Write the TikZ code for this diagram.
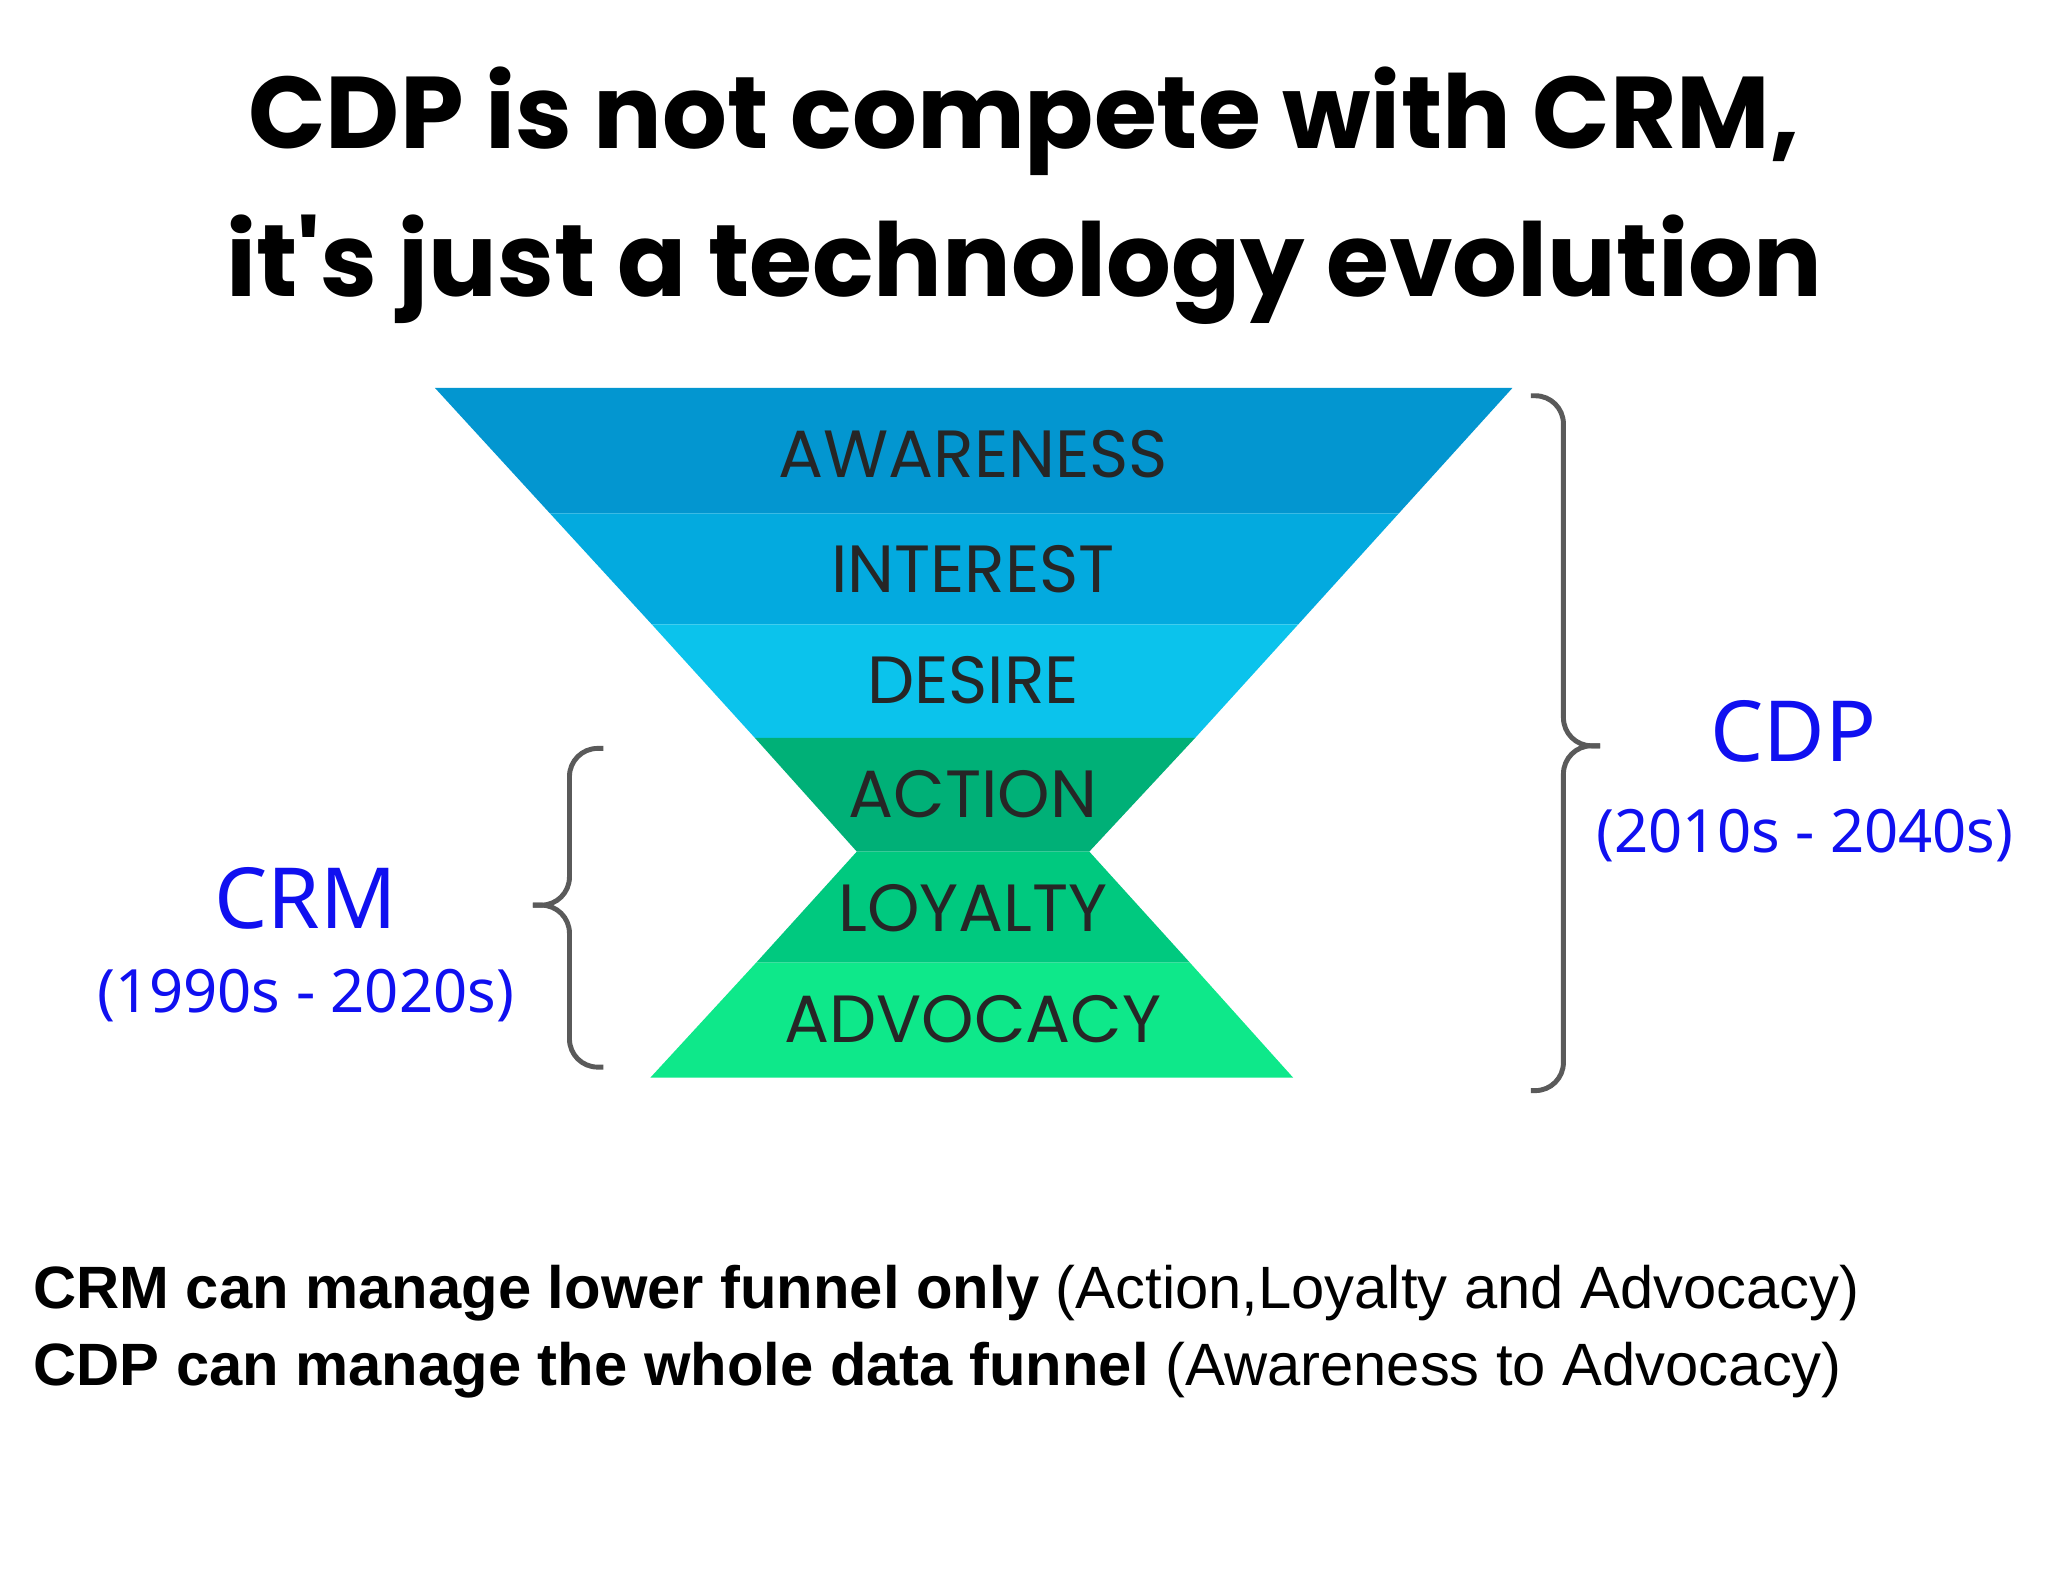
\documentclass[tikz,border=0pt]{standalone}
\usepackage{fontspec}
\setmainfont{Liberation Sans}
\newfontfamily\titlefont{Poppins}
\newfontfamily\labfont{Noto Sans}
\definecolor{cA}{HTML}{0396D0}
\definecolor{cI}{HTML}{03AADF}
\definecolor{cD}{HTML}{0BC3EC}
\definecolor{cAc}{HTML}{00B077}
\definecolor{cL}{HTML}{00C97F}
\definecolor{cAd}{HTML}{0EE88A}
\definecolor{blu}{HTML}{1010F0}
\definecolor{gr}{HTML}{5A5A5A}
\begin{document}
\begin{tikzpicture}[x=0.01306cm,y=-0.01306cm,
  flab/.style={font=\titlefont\fontsize{19}{22}\selectfont, text=black!85},
  side/.style={font=\labfont\fontsize{24}{28}\selectfont\bfseries, text=blu},
  years/.style={font=\labfont\fontsize{17}{20}\selectfont\bfseries, text=blu},
  brace/.style={draw=gr, line width=1.4pt, rounded corners=8pt}]
\useasboundingbox (0,0) rectangle (1568,1211);
\fill[white] (0,0) rectangle (1568,1211);
\node[font=\titlefont\fontsize{29}{42}\selectfont\bfseries, align=center] (title) at (784,150) {CDP is not compete with CRM,\\it's just a technology evolution};
\fill[cA] (333,297) -- (1158,297) -- (1071,393) -- (421,393) -- cycle;
\fill[cI] (421,393) -- (1071,393) -- (994,478) -- (499,478) -- cycle;
\fill[cD] (499,478) -- (994,478) -- (915,565) -- (578,565) -- cycle;
\fill[cAc] (578,565) -- (915,565) -- (834,652) -- (656,652) -- cycle;
\fill[cL] (656,652) -- (834,652) -- (911,737) -- (579,737) -- cycle;
\fill[cAd] (579,737) -- (911,737) -- (990,825) -- (498,825) -- cycle;
\node[flab] (aw) at (745,348) {AWARENESS};
\node[flab] (in) at (745,436) {INTEREST};
\node[flab] (de) at (745,521) {DESIRE};
\node[flab] (ac) at (745,608) {ACTION};
\node[flab] (lo) at (745,695) {LOYALTY};
\node[flab] (ad) at (745,780) {ADVOCACY};
\draw[brace] (1172,303) -- (1197,303) -- (1197,571) -- (1225,571);
\draw[brace] (1172,835) -- (1197,835) -- (1197,571) -- (1225,571);
\draw[brace] (462,573) -- (436,573) -- (436,693) -- (408,693);
\draw[brace] (462,817) -- (436,817) -- (436,693) -- (408,693);
\node[side] (cdp) at (1373,560) {CDP};
\node[years] (cdpy) at (1382,640) {(2010s - 2040s)};
\node[side] (crm) at (234,688) {CRM};
\node[years] (crmy) at (234,762) {(1990s - 2020s)};
\node[anchor=north west, align=left, font=\fontsize{17}{22}\selectfont, inner sep=0] (bot) at (25,968)
 {\textbf{CRM can manage lower funnel only} (Action,Loyalty and Advocacy)\\
  \textbf{CDP can manage the whole data funnel} (Awareness to Advocacy)};
\end{tikzpicture}
\end{document}
